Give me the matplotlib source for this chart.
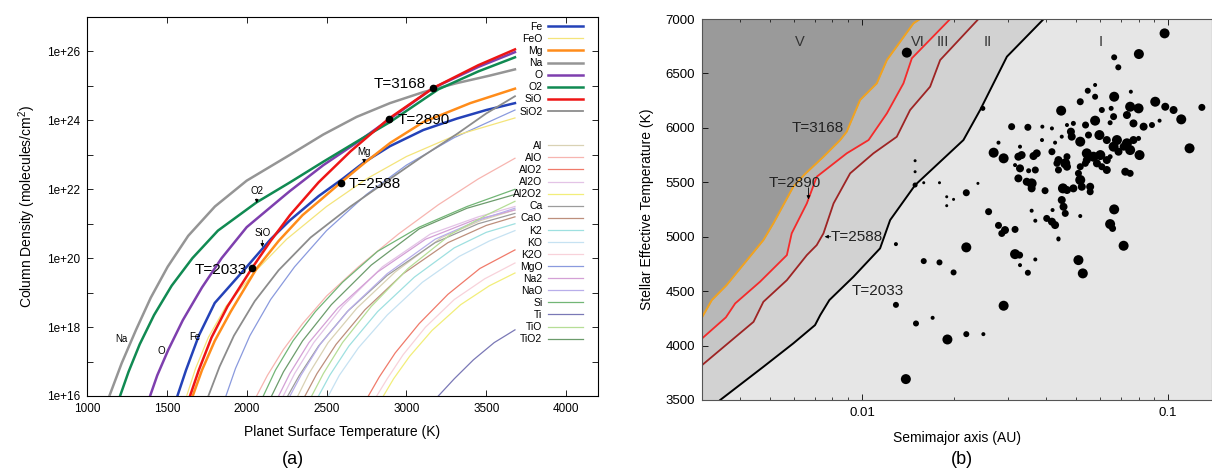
import numpy as np
import matplotlib.pyplot as plt
from matplotlib.ticker import NullLocator, LogLocator, NullFormatter

plt.rcParams['font.family'] = ['Liberation Sans', 'DejaVu Sans']
plt.rcParams['mathtext.default'] = 'regular'

# ---------------- panel (a): column density (log10 molecules/cm^2) vs T ----------------
fe = ([1566, 1620, 1700, 1800, 1993, 2150, 2271, 2450, 2600, 2734, 2897, 3106, 3315, 3500, 3680],
      [16, 16.75, 17.75, 18.7, 19.71, 20.55, 21.1, 21.8, 22.3, 22.78, 23.25, 23.72, 24.05, 24.3, 24.5])
feo = ([1624, 1680, 1760, 1870, 2050, 2250, 2500, 2750, 3000, 3300, 3680],
       [16, 16.8, 17.7, 18.6, 19.6, 20.55, 21.5, 22.3, 22.95, 23.55, 24.07])
mg = ([1662, 1720, 1800, 1900, 2062, 2200, 2350, 2470, 2588, 2734, 2900, 3106, 3400, 3680],
      [16, 16.75, 17.6, 18.45, 19.7, 20.5, 21.25, 21.72, 22.19, 22.75, 23.35, 23.95, 24.5, 24.92])
na = ([1140, 1217, 1307, 1399, 1505, 1634, 1801, 2000, 2271, 2480, 2688, 2897, 3106, 3315, 3523, 3680],
      [16, 16.95, 17.92, 18.85, 19.75, 20.65, 21.5, 22.25, 23.0, 23.59, 24.1, 24.5, 24.82, 25.08, 25.3, 25.48])
o = ([1395, 1440, 1509, 1600, 1720, 1843, 2000, 2219, 2271, 2480, 2688, 2890, 3168, 3450, 3680],
     [16, 16.6, 17.34, 18.2, 19.15, 20.0, 20.9, 21.75, 21.95, 22.7, 23.35, 24.02, 24.94, 25.55, 25.98])
o2 = ([1207, 1260, 1330, 1420, 1530, 1660, 1820, 2062, 2271, 2480, 2688, 2897, 3200, 3450, 3680],
      [16, 16.7, 17.5, 18.35, 19.2, 20.0, 20.8, 21.62, 22.2, 22.8, 23.38, 23.95, 24.9, 25.42, 25.83])
sio = ([1645, 1700, 1780, 1880, 2033, 2150, 2271, 2450, 2650, 2890, 3168, 3450, 3680],
       [16, 16.75, 17.7, 18.6, 19.71, 20.5, 21.25, 22.2, 23.1, 24.05, 24.94, 25.6, 26.06])
sio2 = ([1760, 1830, 1920, 2050, 2200, 2400, 2650, 2897, 3100, 3315, 3500, 3680],
        [16, 16.85, 17.75, 18.75, 19.65, 20.6, 21.5, 22.3, 22.95, 23.6, 24.2, 24.7])

al = ([2320, 2390, 2510, 2690, 2930, 3220, 3470, 3680], [16, 16.65, 17.55, 18.55, 19.6, 20.6, 21.1, 21.4])
alo = ([2062, 2130, 2230, 2350, 2500, 2700, 2950, 3200, 3450, 3680],
       [16, 16.6, 17.35, 18.1, 18.9, 19.75, 20.7, 21.55, 22.3, 22.9])
alo2 = ([2762, 2830, 2930, 3080, 3260, 3460, 3680], [16, 16.55, 17.25, 18.1, 18.95, 19.7, 20.24])
al2o = ([2229, 2300, 2420, 2600, 2850, 3150, 3450, 3680], [16, 16.65, 17.55, 18.6, 19.75, 20.7, 21.2, 21.5])
al2o2 = ([2856, 2920, 3020, 3160, 3340, 3520, 3680], [16, 16.5, 17.15, 17.9, 18.65, 19.2, 19.57])
ca = ([2257, 2330, 2450, 2630, 2880, 3180, 3450, 3680], [16, 16.6, 17.45, 18.45, 19.5, 20.45, 21.0, 21.3])
cao = ([2365, 2440, 2560, 2740, 2980, 3260, 3500, 3680], [16, 16.65, 17.5, 18.5, 19.55, 20.45, 20.95, 21.2])
k2 = ([2450, 2520, 2640, 2820, 3050, 3300, 3500, 3680], [16, 16.6, 17.45, 18.45, 19.45, 20.3, 20.75, 21.0])
ko = ([2511, 2580, 2700, 2880, 3100, 3330, 3520, 3680], [16, 16.6, 17.4, 18.35, 19.3, 20.05, 20.5, 20.8])
k2o = ([2814, 2880, 2980, 3120, 3300, 3490, 3680], [16, 16.5, 17.2, 18.0, 18.8, 19.4, 19.86])
mgo = ([1870, 1930, 2020, 2150, 2300, 2500, 2750, 3000, 3300, 3680],
       [16, 16.8, 17.75, 18.8, 19.75, 20.8, 21.85, 22.7, 23.5, 24.3])
na2 = ([2200, 2270, 2390, 2570, 2820, 3120, 3420, 3680], [16, 16.65, 17.55, 18.55, 19.6, 20.55, 21.1, 21.4])
nao = ([2271, 2340, 2460, 2640, 2880, 3180, 3450, 3680], [16, 16.6, 17.5, 18.5, 19.55, 20.55, 21.1, 21.45])
si = ([2104, 2180, 2290, 2430, 2600, 2820, 3080, 3380, 3680], [16, 16.75, 17.6, 18.45, 19.3, 20.2, 20.9, 21.5, 22.0])
ti = ([3200, 3300, 3420, 3550, 3680], [16, 16.5, 17.05, 17.55, 17.92])
tio = ([2407, 2480, 2600, 2780, 3010, 3280, 3500, 3680], [16, 16.65, 17.55, 18.6, 19.7, 20.7, 21.25, 21.65])
tio2 = ([2156, 2230, 2350, 2530, 2780, 3080, 3380, 3680], [16, 16.7, 17.6, 18.65, 19.8, 20.85, 21.45, 21.85])

major = [('Fe', fe, '#2442b8', 1.8), ('FeO', feo, '#f4e47a', 0.9), ('Mg', mg, '#ff8c1a', 1.8),
         ('Na', na, '#959595', 1.8), ('O', o, '#7e3fae', 1.8), ('O2', o2, '#108a52', 1.8),
         ('SiO', sio, '#ee1515', 1.8), ('SiO2', sio2, '#8c8c8c', 1.3)]
minor = [('Al', al, '#d9d2b4'), ('AlO', alo, '#f7b5b0'), ('AlO2', alo2, '#f07a6a'),
         ('Al2O', al2o, '#e3c3e6'), ('Al2O2', al2o2, '#f2ee7a'), ('Ca', ca, '#9c9c9c'),
         ('CaO', cao, '#bd8f7c'), ('K2', k2, '#9ee0e0'), ('KO', ko, '#c6e2f2'),
         ('K2O', k2o, '#f8d2da'), ('MgO', mgo, '#8a9ade'), ('Na2', na2, '#d4a0d6'),
         ('NaO', nao, '#b8aeea'), ('Si', si, '#72b676'), ('Ti', ti, '#7a78b6'),
         ('TiO', tio, '#b6de96'), ('TiO2', tio2, '#6c9c6c')]

mark_T = [2033, 2588, 2890, 3168]
mark_logN = [19.71, 22.19, 24.05, 24.94]

# ---------------- panel (b): contours in semimajor axis / Teff plane ----------------
black_a = [0.00344, 0.00476, 0.00596, 0.00702, 0.00730, 0.00782, 0.00937, 0.01145, 0.01235,
           0.01490, 0.02143, 0.02430, 0.02972, 0.0392]
black_T = [3500, 3805, 4020, 4188, 4280, 4418, 4632, 4893, 5153, 5474, 5888, 6164, 6654, 7000]
brown_a = [0.0030, 0.00442, 0.00476, 0.00568, 0.00660, 0.00711, 0.00748, 0.00807, 0.00914,
           0.01089, 0.01298, 0.01435, 0.01668, 0.01799, 0.0240]
brown_T = [3820, 4218, 4402, 4601, 4831, 4923, 5031, 5306, 5582, 5766, 5918, 6164, 6378, 6623, 7000]
red_a = [0.0030, 0.00359, 0.00385, 0.00464, 0.00568, 0.00589, 0.00660, 0.00711, 0.00891,
         0.0105, 0.01205, 0.01365, 0.01454, 0.0194]
red_T = [4065, 4259, 4387, 4586, 4831, 5031, 5306, 5551, 5766, 5888, 6133, 6409, 6639, 7000]
orange_a = [0.0030, 0.00323, 0.00361, 0.00476, 0.00513, 0.00596, 0.00651, 0.00748, 0.00848,
            0.00891, 0.00985, 0.01117, 0.01205, 0.01472, 0.01546]
orange_T = [4259, 4418, 4556, 4969, 5122, 5459, 5576, 5735, 5888, 5965, 6256, 6409, 6623, 6960, 7000]

dot_a = [0.0973, 0.0802, 0.0666, 0.0687, 0.0577, 0.0546, 0.0577, 0.0666, 0.0516, 0.0755,
         0.0447, 0.0607, 0.0651, 0.0751, 0.0800, 0.0907, 0.0978, 0.1041, 0.1103, 0.1288,
         0.0733, 0.0663, 0.0577, 0.0537, 0.0490, 0.0467, 0.0308, 0.0348, 0.0388, 0.0417,
         0.0646, 0.0770, 0.0831, 0.0885, 0.0937, 0.0481, 0.0484, 0.0516, 0.0549, 0.0596,
         0.0630, 0.0680, 0.0733, 0.0770, 0.0800, 0.0449, 0.0427, 0.0387, 0.0328, 0.0279,
         0.0269, 0.0290, 0.0324, 0.0332, 0.0363, 0.0372, 0.0417, 0.0438, 0.0461, 0.0433,
         0.0467, 0.0542, 0.0570, 0.0600, 0.0630, 0.0542, 0.0585, 0.0646, 0.0715, 0.0751,
         0.0663, 0.0806, 0.0688, 0.0724, 0.0751, 0.0316, 0.0328, 0.0350, 0.0368, 0.0438,
         0.0467, 0.0516, 0.0536, 0.0607, 0.0630, 0.0324, 0.0345, 0.0358, 0.0358, 0.0396,
         0.0453, 0.0467, 0.0490, 0.0516, 0.0522, 0.0509, 0.0556, 0.0556, 0.0449, 0.0455,
         0.0461, 0.0419, 0.0358, 0.0368, 0.0516, 0.0666, 0.0646, 0.0658, 0.0401, 0.0417,
         0.0427, 0.0438, 0.0149, 0.0149, 0.0149, 0.0159, 0.0179, 0.0239, 0.0219, 0.0189,
         0.0199, 0.0189, 0.0248, 0.0259, 0.0279, 0.0293, 0.0286, 0.0316, 0.0140, 0.1174,
         0.0219, 0.0159, 0.0179, 0.0199, 0.0316, 0.0327, 0.0328, 0.0348, 0.0368, 0.0438,
         0.0509, 0.0526, 0.0715, 0.0290, 0.0150, 0.0170, 0.0190, 0.0219, 0.0249, 0.0139,
         0.0129, 0.0129]
dot_T = [6868, 6678, 6648, 6556, 6394, 6341, 6286, 6286, 6240, 6332,
         6158, 6164, 6179, 6194, 6179, 6240, 6194, 6164, 6078, 6188,
         6118, 6103, 6066, 6026, 6041, 6026, 6011, 6005, 6011, 5995,
         6047, 6041, 6011, 6026, 6066, 5965, 5919, 5873, 5934, 5934,
         5888, 5888, 5858, 5888, 5903, 5919, 5864, 5888, 5827, 5864,
         5772, 5720, 5735, 5750, 5741, 5766, 5781, 5704, 5674, 5674,
         5735, 5766, 5735, 5750, 5704, 5704, 5674, 5735, 5827, 5796,
         5827, 5750, 5781, 5597, 5582, 5658, 5628, 5606, 5613, 5613,
         5643, 5643, 5674, 5643, 5613, 5536, 5505, 5490, 5444, 5423,
         5444, 5429, 5444, 5521, 5459, 5582, 5459, 5413, 5337, 5275,
         5214, 5245, 5239, 5147, 5190, 5251, 5116, 5076, 5168, 5138,
         5107, 4984, 5698, 5597, 5475, 5496, 5496, 5490, 5404, 5367,
         5343, 5285, 6179, 5230, 5104, 5061, 5030, 5067, 6691, 5812,
         4902, 4776, 4764, 4672, 4840, 4831, 4739, 4669, 4791, 4975,
         4785, 4663, 4917, 4366, 4203, 4255, 4056, 4105, 4105, 3692,
         4932, 4374]
dot_size = [10, 10, 6, 6, 4, 6, 6, 10, 7, 4,
            10, 6, 5, 10, 10, 10, 8, 8, 10, 7,
            8, 7, 10, 7, 5, 4, 7, 7, 4, 4,
            5, 8, 8, 6, 4, 8, 8, 10, 7, 10,
            8, 10, 10, 8, 5, 4, 4, 4, 4, 4,
            10, 10, 8, 8, 8, 8, 7, 8, 10, 7,
            7, 10, 10, 10, 8, 8, 8, 5, 8, 10,
            10, 10, 8, 8, 7, 4, 8, 5, 7, 7,
            8, 7, 7, 7, 8, 8, 8, 10, 8, 7,
            10, 8, 8, 10, 8, 7, 8, 7, 8, 8,
            7, 4, 4, 4, 4, 10, 10, 7, 7, 8,
            8, 4, 3, 3, 5, 3, 3, 3, 7, 3,
            3, 3, 5, 7, 7, 8, 7, 7, 10, 10,
            10, 6, 6, 6, 10, 7, 4, 6, 4, 4,
            10, 10, 10, 10, 6, 4, 10, 6, 4, 10,
            4, 6]

regions = ['V', 'VI', 'III', 'II', 'I']
region_a = [0.00627, 0.01524, 0.01835, 0.0257, 0.0604]

fig = plt.figure(figsize=(12.12, 4.70), dpi=100)
W, H = 1212.0, 470.0

# ---------------- panel (a) ----------------
axa = fig.add_axes([87 / W, 1 - 396 / H, (598 - 87) / W, (396 - 17) / H])
axa.set_yscale('log')
handles_minor = []
for name, (T, lg), col in minor:
    ln, = axa.plot(T, 10.0 ** np.array(lg), color=col, lw=0.9, label=name, zorder=2)
    handles_minor.append(ln)
handles_major = []
for name, (T, lg), col, lw in major:
    ln, = axa.plot(T, 10.0 ** np.array(lg), color=col, lw=lw, label=name, zorder=3)
    handles_major.append(ln)

axa.plot(mark_T, 10.0 ** np.array(mark_logN), 'o', color='black', ms=4.5, zorder=5)
axa.annotate('T=3168', xy=(mark_T[3], 10 ** mark_logN[3]), xytext=(-5, 3),
             textcoords='offset points', ha='right', va='center', fontsize=11)
axa.annotate('T=2890', xy=(mark_T[2], 10 ** mark_logN[2]), xytext=(6, -1),
             textcoords='offset points', ha='left', va='center', fontsize=11)
axa.annotate('T=2588', xy=(mark_T[1], 10 ** mark_logN[1]), xytext=(6, -1),
             textcoords='offset points', ha='left', va='center', fontsize=11)
axa.annotate('T=2033', xy=(mark_T[0], 10 ** mark_logN[0]), xytext=(-4, -1),
             textcoords='offset points', ha='right', va='center', fontsize=11)

axa.text(1217, 10 ** 17.65, 'Na', fontsize=7, ha='center', va='center')
axa.text(1468, 10 ** 17.32, 'O', fontsize=7, ha='center', va='center')
axa.text(1676, 10 ** 17.72, 'Fe', fontsize=7, ha='center', va='center')
arrow = dict(arrowstyle='-|>', color='black', lw=0.6, mutation_scale=5, shrinkA=0, shrinkB=0)
axa.annotate('SiO', xy=(2098, 10 ** 20.32), xytext=(2098, 10 ** 20.6), ha='center', va='bottom',
             fontsize=7, arrowprops=arrow)
axa.annotate('O2', xy=(2063, 10 ** 21.6), xytext=(2063, 10 ** 21.8), ha='center', va='bottom',
             fontsize=7, arrowprops=arrow)
axa.annotate('Mg', xy=(2735, 10 ** 22.76), xytext=(2735, 10 ** 22.95), ha='center', va='bottom',
             fontsize=7, arrowprops=arrow)

axa.set_xlim(1000, 4200)
axa.set_ylim(1e16, 1e27)
axa.set_xticks(range(1000, 4001, 500))
decades = list(range(16, 27))
axa.set_yticks([10.0 ** k for k in decades])
axa.set_yticklabels(['1e+%d' % k if k % 2 == 0 else '' for k in decades])
axa.yaxis.set_minor_locator(NullLocator())
axa.tick_params(direction='in', top=True, right=True, length=4, width=0.6, labelsize=8.5, pad=5)
for s in axa.spines.values():
    s.set_linewidth(0.8)
axa.set_xlabel('Planet Surface Temperature (K)', fontsize=10, labelpad=7)
axa.set_ylabel('Column Density (molecules/cm$^2$)', fontsize=10, labelpad=6)

leg1 = axa.legend(handles=handles_major, loc='upper right', bbox_to_anchor=(0.9706, 0.987),
                  markerfirst=False, frameon=False, fontsize=7.5, handlelength=3.4,
                  handletextpad=0.5, labelspacing=0.2, borderaxespad=0, borderpad=0)
axa.add_artist(leg1)
axa.legend(handles=handles_minor, loc='upper right', bbox_to_anchor=(0.9706, 0.673),
           markerfirst=False, frameon=False, fontsize=7.5, handlelength=3.4,
           handletextpad=0.5, labelspacing=0.2, borderaxespad=0, borderpad=0)

# ---------------- panel (b) ----------------
axb = fig.add_axes([702 / W, 1 - 400 / H, (W - 702) / W, (400 - 19) / H])
axb.set_xscale('log')
axb.set_facecolor('#e6e6e6')
axb.fill_betweenx(black_T, 0.001, black_a, color='#d2d2d2', lw=0)
axb.fill_betweenx(brown_T, 0.001, brown_a, color='#c6c6c6', lw=0)
axb.fill_betweenx(red_T, 0.001, red_a, color='#b8b8b8', lw=0)
axb.fill_betweenx(orange_T, 0.001, orange_a, color='#9a9a9a', lw=0)
axb.plot(black_a, black_T, color='black', lw=1.4)
axb.plot(brown_a, brown_T, color='#9e2424', lw=1.3)
axb.plot(red_a, red_T, color='#f52a2a', lw=1.3)
axb.plot(orange_a, orange_T, color='#f2a31e', lw=1.4)
axb.scatter(dot_a, dot_T, s=(np.array(dot_size) * 0.72) ** 2, c='black', lw=0, zorder=5)

for lab, xa in zip(regions, region_a):
    axb.text(xa, 6791, lab, fontsize=10.5, color='#333333', ha='center', va='center')

axb.text(0.00718, 5995, 'T=3168', fontsize=11, color='#222222', ha='center', va='center')
axb.text(0.00604, 5496, 'T=2890', fontsize=11, color='#222222', ha='center', va='center')
axb.annotate('', xy=(0.00668, 5343), xytext=(0.00668, 5450), arrowprops=arrow)
axb.text(0.0079, 5000, 'T=2588', fontsize=11, color='#222222', ha='left', va='center')
axb.annotate('', xy=(0.00755, 5000), xytext=(0.0079, 5000), arrowprops=arrow)
axb.text(0.01124, 4500, 'T=2033', fontsize=11, color='#222222', ha='center', va='center')

axb.set_xlim(0.003, 0.139)
axb.set_ylim(3500, 7000)
axb.set_yticks(range(3500, 7001, 500))
axb.set_xticks([0.01, 0.1])
axb.set_xticklabels(['0.01', '0.1'])
axb.xaxis.set_minor_locator(LogLocator(base=10, subs=np.arange(2, 10)))
axb.xaxis.set_minor_formatter(NullFormatter())
axb.tick_params(direction='in', top=True, right=False, length=4, width=0.6, labelsize=9.5, pad=5)
axb.tick_params(which='minor', direction='in', top=True, length=2.5, width=0.5)
for s in axb.spines.values():
    s.set_linewidth(0.8)
    s.set_color('#555555')
axb.set_xlabel('Semimajor axis (AU)', fontsize=10, labelpad=9)
axb.set_ylabel('Stellar Effective Temperature (K)', fontsize=10, labelpad=8)

fig.text(293 / W, 1 - 459 / H, '(a)', fontsize=13, ha='center', va='center')
fig.text(962 / W, 1 - 459 / H, '(b)', fontsize=13, ha='center', va='center')

fig.savefig('out.png', dpi=100)
